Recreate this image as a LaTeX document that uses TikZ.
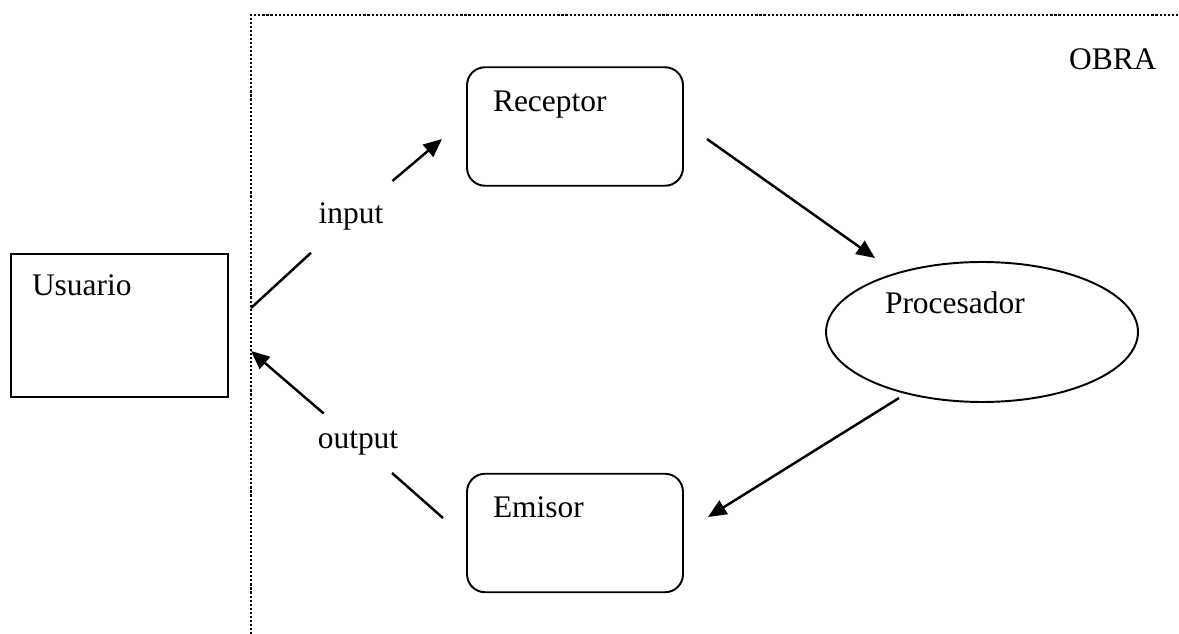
\documentclass[tikz,border=0pt]{standalone}
\usepackage{fontspec}
\setmainfont{Liberation Serif}
\usetikzlibrary{arrows.meta,shapes.geometric}

\begin{document}
\begin{tikzpicture}[x=0.02cm, y=-0.02cm, >={Triangle[length=10.5pt,width=9pt]},
	   font=\fontsize{17.9}{21}\selectfont,
	   caja/.style={draw, line width=1.1pt, rounded corners=0.36cm, align=left, inner xsep=0.52cm, inner ysep=0pt,
	     text width=3.28cm, text height=0.88cm, text depth=1.49cm},
	   usr/.style={draw, line width=1.1pt, align=left, inner xsep=0.42cm, inner ysep=0pt,
	     text width=3.5cm, text height=0.82cm, text depth=2.04cm},
	   proc/.style={draw, ellipse, line width=1.1pt, minimum width=6.24cm, minimum height=2.8cm, inner sep=0pt,
	     align=left, text width=3.88cm, text height=0.5cm, text depth=1.26cm},
	   etiq/.style={circle, inner sep=0pt},
	   arr/.style={->, line width=1.4pt},
	   punteado/.style={line width=1.6pt, dash pattern=on 1.2pt off 1.1pt}]
	  \useasboundingbox (0,0) rectangle (1179,634);
	  \draw[punteado] (251,634) |- (1179,15);
	  \node[anchor=base west] (obra) at (1063,70) {OBRA};
	  \node[usr] (U) at (119.5,325.5) {Usuario};
	  \node[caja] (R) at (575,126.5) {Receptor};
	  \node[caja] (E) at (575,533) {Emisor};
	  \node[proc] (P) at (982,332) {Procesador};
	  \node[etiq, minimum size=2.16cm] (in) at (351,216) {input};
	  \node[etiq, minimum size=1.8cm] (out) at (358,443) {output};
	  \coordinate (inA) at (251,308); \coordinate (inB) at (442,139);
	  \coordinate (outA) at (443,518); \coordinate (outB) at (251,351);
	  \coordinate (rpA) at (707,139); \coordinate (rpB) at (875,258);
	  \coordinate (peA) at (899,398); \coordinate (peB) at (708,517);
	  \draw[arr] (inA) -- (in) -- (inB);
	  \draw[arr] (outA) -- (out) -- (outB);
	  \draw[arr] (rpA) -- (rpB);
	  \draw[arr] (peA) -- (peB);
	\end{tikzpicture}
\end{document}
